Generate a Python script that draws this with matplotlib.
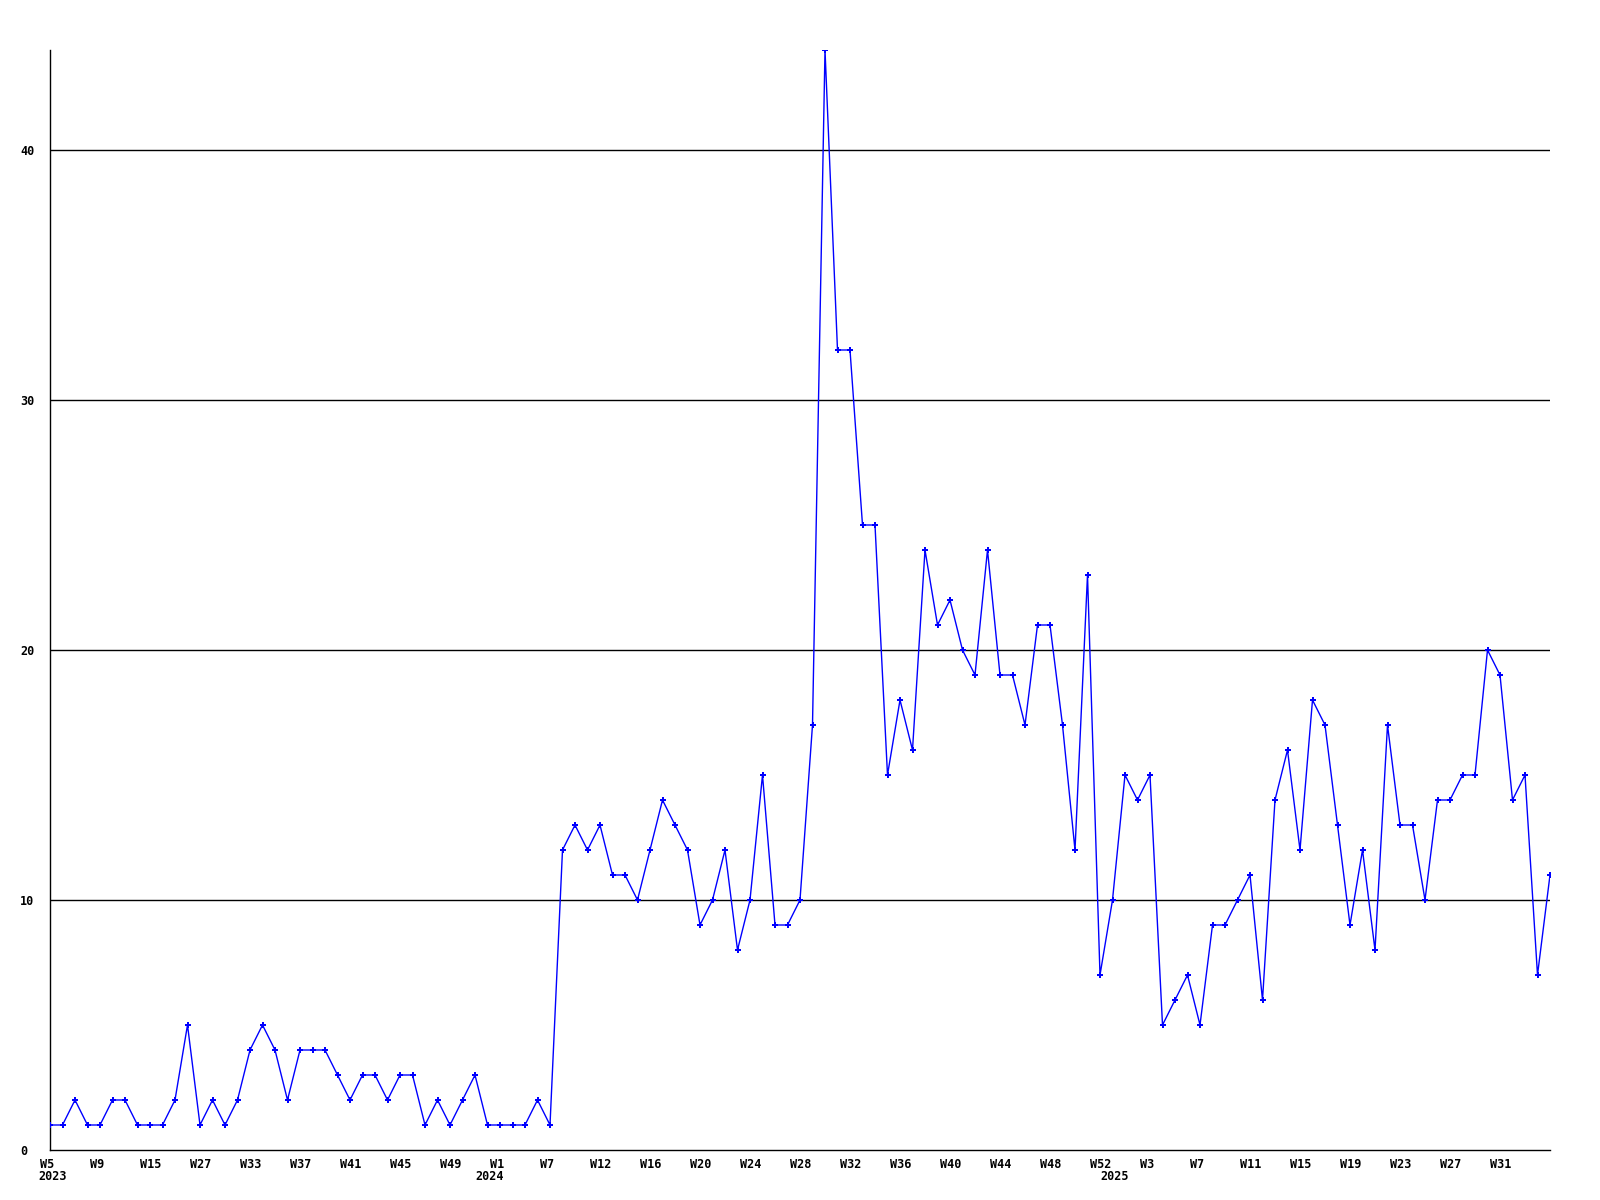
import matplotlib
matplotlib.use("Agg")
import matplotlib.pyplot as plt
import matplotlib.transforms as mtransforms

values = [1, 1, 2, 1, 1, 2, 2, 1, 1, 1, 2, 5, 1, 2, 1, 2, 4, 5, 4, 2,
          4, 4, 4, 3, 2, 3, 3, 2, 3, 3, 1, 2, 1, 2, 3, 1, 1, 1, 1, 2,
          1, 12, 13, 12, 13, 11, 11, 10, 12, 14, 13, 12, 9, 10, 12, 8, 10, 15, 9, 9,
          10, 17, 44, 32, 32, 25, 25, 15, 18, 16, 24, 21, 22, 20, 19, 24, 19, 19, 17, 21,
          21, 17, 12, 23, 7, 10, 15, 14, 15, 5, 6, 7, 5, 9, 9, 10, 11, 6, 14, 16,
          12, 18, 17, 13, 9, 12, 8, 17, 13, 13, 10, 14, 14, 15, 15, 20, 19, 14, 15, 7,
          11]

tick_labels = ["W5", "W9", "W15", "W27", "W33", "W37", "W41", "W45", "W49", "W1",
               "W7", "W12", "W16", "W20", "W24", "W28", "W32", "W36", "W40", "W44",
               "W48", "W52", "W3", "W7", "W11", "W15", "W19", "W23", "W27", "W31"]
tick_step = 4

years = ["2023", "2024", "2025"]
year_pos = [0.2, 35.2, 85.2]

y_ticks = [0, 10, 20, 30, 40]

fig = plt.figure(figsize=(16, 12), dpi=100)
ax = fig.add_axes([50 / 1600, 50 / 1200, 1500 / 1600, 1100 / 1200])

xs = list(range(len(values)))
ax.plot(xs, values, color="#0000ff", lw=1.0, marker="P", markersize=4.5,
        markeredgewidth=0, zorder=3)

ax.set_xlim(0, len(values) - 1)
ax.set_ylim(0, 44)

for y in y_ticks[1:]:
    ax.axhline(y, color="black", lw=1.0, zorder=1)

for s in ["top", "right"]:
    ax.spines[s].set_visible(False)
for s in ["left", "bottom"]:
    ax.spines[s].set_color("black")
    ax.spines[s].set_linewidth(1.0)

font = dict(family="DejaVu Sans Mono", weight="bold", size=8.5)

ax.set_xticks([i * tick_step for i in range(len(tick_labels))])
ax.set_xticklabels(tick_labels, ha="left", **font)
ax.tick_params(axis="x", length=0, pad=6)
off = mtransforms.ScaledTranslation(-10 / 100, 0, fig.dpi_scale_trans)
for lbl in ax.get_xticklabels():
    lbl.set_transform(lbl.get_transform() + off)

ax.set_yticks(y_ticks)
ax.set_yticklabels([str(v) for v in y_ticks], ha="left", **font)
ax.tick_params(axis="y", length=0, pad=21.5)

trans = mtransforms.blended_transform_factory(ax.transData, ax.transAxes)
for yr, p in zip(years, year_pos):
    t = ax.text(p, 0, yr, transform=trans, ha="center", va="center", **font)
    t.set_transform(trans + mtransforms.ScaledTranslation(0, -27 / 100, fig.dpi_scale_trans))

fig.savefig("out.png", dpi=100, facecolor="white")
